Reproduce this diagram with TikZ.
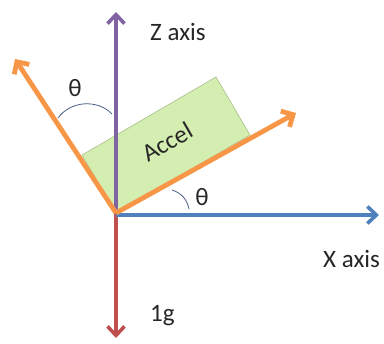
\documentclass[tikz,border=0pt]{standalone}
\usepackage{fontspec}
\setmainfont{Carlito}
\usetikzlibrary{arrows.meta}
\definecolor{zpurple}{HTML}{8064A2}
\definecolor{xblue}{HTML}{4F81BD}
\definecolor{gred}{HTML}{C0504D}
\definecolor{aorange}{HTML}{F79646}
\definecolor{boxgreen}{HTML}{D4EDB0}
\definecolor{boxedge}{HTML}{A9BF8A}
\definecolor{arcblue}{HTML}{4A5F86}
\definecolor{txt}{HTML}{262626}
\tikzset{
  axis/.style={line width=3.6pt, -{Straight Barb[length=9pt,width=17pt,line width=3.6pt]}},
  vec/.style={line width=4.8pt, aorange, -{Straight Barb[length=9pt,width=18pt,line width=4.8pt]}},
  lbl/.style={font=\fontsize{25}{28}\selectfont, text=txt, inner sep=0pt},
  anglearc/.style={arcblue, line width=0.8pt}
}
\begin{document}
\begin{tikzpicture}[x=1pt,y=-1pt]
\useasboundingbox (0,0) rectangle (384,344);
\coordinate (O) at (116,213);
\coordinate (Ox) at (116,215);
\coordinate (ztip) at (116,12);
\coordinate (xtip) at (379,215);
\coordinate (gtip) at (116,338);
\coordinate (rtip) at (296,113);
\coordinate (ltip) at (15,59);
% accelerometer box
\coordinate (A) at (250,135);
\coordinate (B) at (216,77);
\coordinate (C) at (82,155);
\fill[boxgreen, draw=boxedge, line width=0.6pt] (O) -- (A) -- (B) -- (C) -- cycle;
\node[lbl, rotate=30] (accel) at (167,142) {Accel};
% axes
\draw[axis, zpurple] (O) -- (ztip);
\draw[axis, gred] (O) -- (gtip);
\draw[axis, xblue] (Ox) -- (xtip);
% tilted vectors
\draw[vec] (O) -- (rtip);
\draw[vec] (O) -- (ltip);
% angle arcs
\coordinate (a1s) at (58,118);
\coordinate (a1e) at (112,114);
\draw[anglearc] (a1s) to[bend left=50] (a1e);
\coordinate (a2s) at (172,190);
\coordinate (a2e) at (189,209);
\draw[anglearc] (a2s) to[bend left=30] (a2e);
% labels
\node[lbl] (th1) at (75,88) {θ};
\node[lbl] (th2) at (202,197) {θ};
\node[lbl, anchor=west] (zl) at (150,32) {Z axis};
\node[lbl, anchor=west] (xl) at (323,259) {X axis};
\node[lbl, anchor=west] (gl) at (150,316) {1g};
\end{tikzpicture}
\end{document}
